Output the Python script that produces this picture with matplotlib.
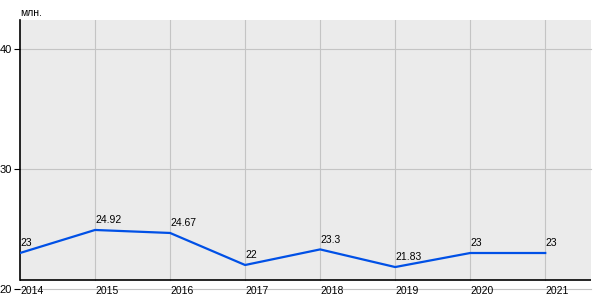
import matplotlib.pyplot as plt
from matplotlib.patches import Rectangle

plt.rcParams['font.family'] = ['Liberation Sans', 'DejaVu Sans']

years = [2014, 2015, 2016, 2017, 2018, 2019, 2020, 2021]
values = [23, 24.92, 24.67, 22, 23.3, 21.83, 23, 23]
labels = ['23', '24.92', '24.67', '22', '23.3', '21.83', '23', '23']
y_ticks = [20, 30, 40]

fig = plt.figure(figsize=(6, 3), dpi=100)
ax = fig.add_axes([20 / 600, 11 / 300, 571 / 600, 269 / 300])

ymin, ymax = 20, 42.42
base = 20.75  # where the black x axis line sits
ax.set_xlim(2014, 2021.61)
ax.set_ylim(ymin, ymax)

ax.add_patch(Rectangle((2014, base), 7.61, ymax - base, facecolor='#ebebeb',
                       edgecolor='none', zorder=0))

# grid
for y in y_ticks:
    ax.axhline(y, color='#c4c4c4', lw=0.8, zorder=1, clip_on=False)
for x in years[1:]:
    ax.plot([x, x], [base, ymax], color='#c4c4c4', lw=0.8, zorder=1)

ax.axhline(base, color='black', lw=1.2, zorder=3)

for s in ['top', 'right', 'bottom']:
    ax.spines[s].set_visible(False)
ax.spines['left'].set_bounds(base, ymax)
ax.spines['left'].set_linewidth(1.2)

ax.plot(years, values, color='#0050e6', lw=1.6, zorder=4)
for x, v, t in zip(years, values, labels):
    ax.annotate(t, (x, v), xytext=(0, 3.5), textcoords='offset points',
                fontsize=7.5, ha='left', va='bottom', zorder=5)

ax.set_yticks(y_ticks)
ax.set_yticklabels([str(y) for y in y_ticks], fontsize=8)
ax.set_xticks(years)
ax.set_xticklabels([str(y) for y in years], fontsize=7.5, ha='left')
ax.tick_params(axis='y', length=4, width=0.8, pad=2)
ax.tick_params(axis='x', length=0, pad=-2.5)
ax.set_facecolor('white')

fig.text(20 / 600, 1 - 13 / 300, 'млн.', fontsize=7.5, ha='left', va='center')

fig.savefig('out.png', dpi=100)
